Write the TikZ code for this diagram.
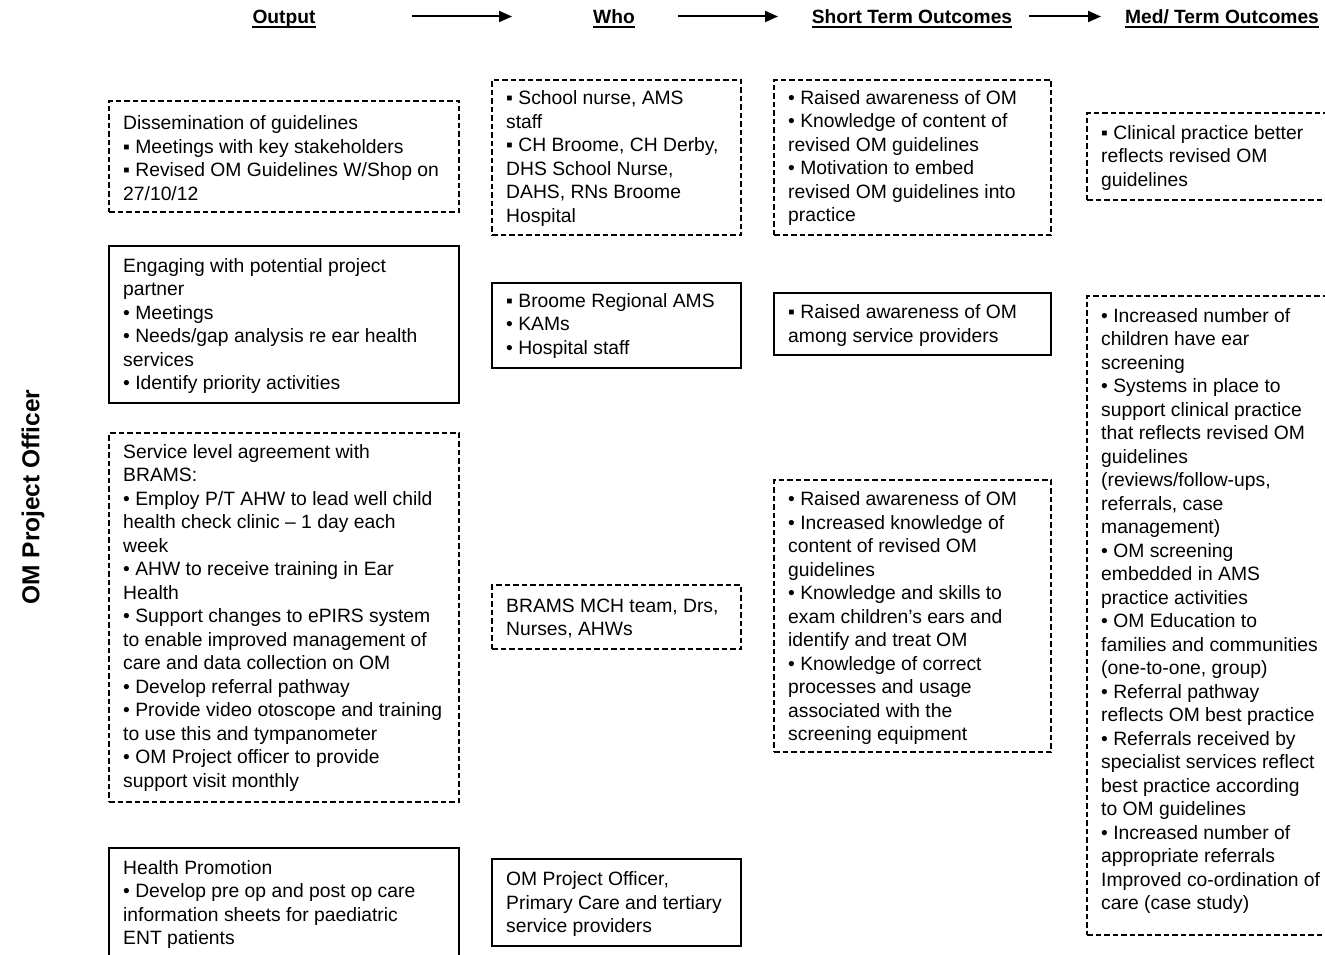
\documentclass[tikz,border=0pt]{standalone}
\usepackage{fontspec}
\setmainfont{Liberation Sans}
\usetikzlibrary{arrows.meta}
\begin{document}
\begin{tikzpicture}[x=1pt,y=-1pt,
  dbox/.style={draw, dash pattern=on 5.5pt off 3pt, line width=1.1pt, anchor=north west, inner sep=0pt, outer sep=0pt},
  sbox/.style={draw, line width=1.6pt, anchor=north west, inner sep=0pt, outer sep=0pt},
  txt/.style={anchor=west, align=left, inner sep=0pt, font=\fontsize{19.3}{23.5}\selectfont},
  hdr/.style={anchor=base, inner sep=0pt, font=\bfseries\fontsize{19.2}{23}\selectfont},
  harrow/.style={line width=2pt, -{Triangle[length=13pt,width=11pt]}},
  uline/.style={line width=1.8pt}
]
\clip (0,0) rectangle (1325,955);
\useasboundingbox (0,0) rectangle (1325,955);

% headers
\node[hdr] (hout) at (284,23.5) {Output};
\node[hdr] (hwho) at (614,23.5) {Who};
\node[hdr] (hst) at (912,23.5) {Short Term Outcomes};
\node[hdr] (hmt) at (1222,23.5) {Med/ Term Outcomes};
\foreach \h in {hout,hwho,hst,hmt}{
  \draw[uline] ([yshift=-3.5pt]\h.base west) -- ([yshift=-3.5pt]\h.base east);
}
\coordinate (a1s) at (412,16.5); \coordinate (a1e) at (512,16.5);
\coordinate (a2s) at (678,16.5); \coordinate (a2e) at (778,16.5);
\coordinate (a3s) at (1029,16.5); \coordinate (a3e) at (1101,16.5);
\draw[harrow] (a1s) -- (a1e);
\draw[harrow] (a2s) -- (a2e);
\draw[harrow] (a3s) -- (a3e);

% side label
\node[font=\bfseries\fontsize{24.5}{29}\selectfont, rotate=90, inner sep=0pt] (side) at (33,497) {OM Project Officer};

% Output column
\node[dbox, minimum width=350pt, minimum height=111pt] (o1) at (109,101) {};
\node[txt] (o1t) at (123,158) {Dissemination of guidelines\\ ▪ Meetings with key stakeholders\\ ▪ Revised OM Guidelines W/Shop on\\ 27/10/12};

\node[sbox, minimum width=350pt, minimum height=157pt] (o2) at (109,246) {};
\node[txt] (o2t) at (123,326) {Engaging with potential project\\ partner\\ • Meetings\\ • Needs/gap analysis re ear health\\ services\\ • Identify priority activities};

\node[dbox, minimum width=350pt, minimum height=369pt] (o3) at (109,433) {};
\node[txt] (o3t) at (123,618) {Service level agreement with\\ BRAMS:\\ • Employ P/T AHW to lead well child\\ health check clinic – 1 day each\\ week\\ • AHW to receive training in Ear\\ Health\\ • Support changes to ePIRS system\\ to enable improved management of\\ care and data collection on OM\\ • Develop referral pathway\\ • Provide video otoscope and training\\ to use this and tympanometer\\ • OM Project officer to provide\\ support visit monthly};

\node[sbox, minimum width=350pt, minimum height=140pt] (o4) at (109,848) {};
\node[txt] (o4t) at (123,904.5) {Health Promotion\\ • Develop pre op and post op care\\ information sheets for paediatric\\ ENT patients};

% Who column
\node[dbox, minimum width=249pt, minimum height=155pt] (w1) at (492,80) {};
\node[txt] (w1t) at (506,158.5) {▪ School nurse, AMS\\ staff\\ ▪ CH Broome, CH Derby,\\ DHS School Nurse,\\ DAHS, RNs Broome\\ Hospital};

\node[sbox, minimum width=249pt, minimum height=85pt] (w2) at (492,283) {};
\node[txt] (w2t) at (506,326) {▪ Broome Regional AMS\\ • KAMs\\ • Hospital staff};

\node[dbox, minimum width=249pt, minimum height=64pt] (w3) at (492,585) {};
\node[txt] (w3t) at (506,618.5) {BRAMS MCH team, Drs,\\ Nurses, AHWs};

\node[sbox, minimum width=249pt, minimum height=87pt] (w4) at (492,859) {};
\node[txt] (w4t) at (506,904.5) {OM Project Officer,\\ Primary Care and tertiary\\ service providers};

% Short term column
\node[dbox, minimum width=277pt, minimum height=155pt] (s1) at (774,80) {};
\node[txt] (s1t) at (788,158) {• Raised awareness of OM\\ • Knowledge of content of\\ revised OM guidelines\\ • Motivation to embed\\ revised OM guidelines into\\ practice};

\node[sbox, minimum width=277pt, minimum height=62pt] (s2) at (774,293) {};
\node[txt] (s2t) at (788,325.5) {▪ Raised awareness of OM\\ among service providers};

\node[dbox, minimum width=277pt, minimum height=272pt] (s3) at (774,480) {};
\node[txt] (s3t) at (788,618.5) {• Raised awareness of OM\\ • Increased knowledge of\\ content of revised OM\\ guidelines\\ • Knowledge and skills to\\ exam children’s ears and\\ identify and treat OM\\ • Knowledge of correct\\ processes and usage\\ associated with the\\ screening equipment};

% Med term column
\node[dbox, minimum width=260pt, minimum height=87pt] (m1) at (1087,113) {};
\node[txt] (m1t) at (1101,158) {▪ Clinical practice better\\ reflects revised OM\\ guidelines};

\node[dbox, minimum width=260pt, minimum height=639pt] (m2) at (1087,296) {};
\node[txt] (m2t) at (1101,611) {• Increased number of\\ children have ear\\ screening\\ • Systems in place to\\ support clinical practice\\ that reflects revised OM\\ guidelines\\ (reviews/follow-ups,\\ referrals, case\\ management)\\ • OM screening\\ embedded in AMS\\ practice activities\\ • OM Education to\\ families and communities\\ (one-to-one, group)\\ • Referral pathway\\ reflects OM best practice\\ • Referrals received by\\ specialist services reflect\\ best practice according\\ to OM guidelines\\ • Increased number of\\ appropriate referrals\\ Improved co-ordination of\\ care (case study)};
\end{tikzpicture}
\end{document}
